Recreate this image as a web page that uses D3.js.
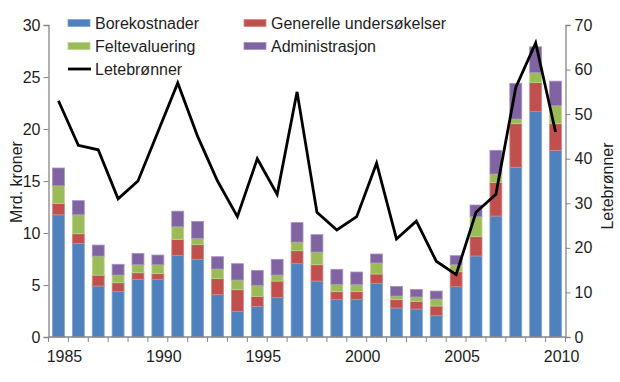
<!DOCTYPE html>
<html><head><meta charset="utf-8">
<script src="https://cdn.jsdelivr.net/npm/d3@7"></script>
<style>
body{margin:0;background:#fff;}
svg{display:block;font-family:"Liberation Sans",Arial,sans-serif;}
</style></head>
<body><svg id="c" width="620" height="382"></svg>
<script>
const years = [1985,1986,1987,1988,1989,1990,1991,1992,1993,1994,1995,1996,1997,1998,1999,2000,2001,2002,2003,2004,2005,2006,2007,2008,2009,2010];
const borekostnader = [11.75,9.0,4.9,4.36,5.55,5.55,7.85,7.47,4.07,2.47,2.95,3.81,7.05,5.38,3.62,3.62,5.16,2.79,2.69,2.05,4.84,7.79,11.63,16.32,21.67,17.95];
const generelle = [1.1,0.93,1.05,0.86,0.63,0.54,1.54,1.41,1.54,2.08,0.96,1.57,1.25,1.57,0.74,0.74,0.9,0.8,0.74,0.93,1.44,1.86,3.24,4.19,2.79,2.56];
const feltevaluering = [1.7,1.83,1.83,0.74,0.77,0.86,1.21,0.61,0.93,0.93,1.06,0.58,0.83,1.22,0.70,0.70,1.06,0.35,0.42,0.67,0.67,1.92,0.8,0.45,0.96,1.73];
const administrasjon = [1.7,1.35,1.06,1.03,1.09,0.93,1.5,1.63,1.18,1.57,1.44,1.51,1.87,1.67,1.45,1.19,0.86,0.93,0.73,0.77,0.87,1.12,2.28,3.43,2.48,2.36];
const letebronner = [53,43,42,31,35,46,57,45,35,27,40,32,55,28,24,27,39,22,26,17,14,28,32,56,66,46];
const leftTicks = [0,5,10,15,20,25,30];
const rightTicks = [0,10,20,30,40,50,60,70];
const xLabels = [1985,1990,1995,2000,2005,2010];
const seriesNames = ["Borekostnader","Generelle undersøkelser","Feltevaluering","Administrasjon"];
const lineName = "Letebrønner";
const colors = ["#4F81BD","#C0504D","#9BBB59","#8064A2"];
const strokes = ["#7fa3d3","#d98583","#bcd58c","#a891c4"];

const svg = d3.select("#c");
const L = 48.5, R = 565.5, T = 25, B = 337;
const x = d3.scaleBand().domain(years).range([L, R]).paddingInner(0.4).paddingOuter(0.2);
const yL = d3.scaleLinear().domain([0,30]).range([B, T]);
const yR = d3.scaleLinear().domain([0,70]).range([B, T]);

const table = years.map((yr,i)=>({year:yr, s0:borekostnader[i], s1:generelle[i], s2:feltevaluering[i], s3:administrasjon[i]}));
const stack = d3.stack().keys(["s0","s1","s2","s3"])(table);

const g = svg.append("g");
stack.forEach((layer,k)=>{
  g.selectAll(null).data(layer).enter().append("rect")
    .attr("x", d=>x(d.data.year))
    .attr("width", x.bandwidth())
    .attr("y", d=>yL(d[1]))
    .attr("height", d=>yL(d[0])-yL(d[1]))
    .attr("fill", colors[k])
    .attr("stroke", strokes[k]).attr("stroke-width",0.8);
});

// line
const line = d3.line().x((d,i)=>x(years[i])+x.bandwidth()/2).y(d=>yR(d));
svg.append("path").datum(letebronner).attr("d", line)
  .attr("fill","none").attr("stroke","#000").attr("stroke-width",2.8).attr("stroke-linejoin","miter");

const axisColor = "#868686", textColor = "#1e1e1e";
const ax = d3.axisLeft(yL).tickValues(leftTicks).tickSize(5).tickPadding(3);
const gl = svg.append("g").attr("transform",`translate(${L},0)`).call(ax);
const ar = d3.axisRight(yR).tickValues(rightTicks).tickSize(5).tickPadding(4);
const gr = svg.append("g").attr("transform",`translate(${R},0)`).call(ar);
const step = x.step();
const bTicks = d3.range(years.length+1).map(i=>L+i*step);
const gb = svg.append("g");
gb.append("line").attr("x1",L).attr("x2",R).attr("y1",B).attr("y2",B).attr("stroke",axisColor).attr("stroke-width",1.3);
gb.selectAll(null).data(bTicks).enter().append("line")
  .attr("x1",d=>d).attr("x2",d=>d).attr("y1",B).attr("y2",B+5).attr("stroke",axisColor).attr("stroke-width",1);
gb.selectAll(null).data(xLabels).enter().append("text")
  .attr("x",d=>x(d)+x.bandwidth()/2+6).attr("y",361.5).attr("text-anchor","middle")
  .attr("font-size",16).attr("fill",textColor).text(d=>d);

[gl,gr].forEach(a=>{
  a.select(".domain").attr("stroke",axisColor).attr("stroke-width",1.3);
  a.selectAll(".tick line").attr("stroke",axisColor);
  a.selectAll(".tick text").attr("font-size",16).attr("fill",textColor).attr("font-family","Liberation Sans, Arial, sans-serif");
});

svg.append("text").attr("transform",`translate(16,182) rotate(-90)`).attr("text-anchor","middle")
  .attr("dy","0.35em").attr("font-size",16).attr("fill",textColor).text("Mrd. kroner");
svg.append("text").attr("transform",`translate(607,186) rotate(-90)`).attr("text-anchor","middle")
  .attr("dy","0.35em").attr("font-size",16).attr("fill",textColor).text(lineName);

const leg = [
  {name:seriesNames[0], c:colors[0], s:strokes[0], x:68, y:23},
  {name:seriesNames[1], c:colors[1], s:strokes[1], x:244, y:23},
  {name:seriesNames[2], c:colors[2], s:strokes[2], x:68, y:46},
  {name:seriesNames[3], c:colors[3], s:strokes[3], x:244, y:46}
];
leg.forEach(d=>{
  svg.append("rect").attr("x",d.x).attr("y",d.y-3.5).attr("width",22).attr("height",7).attr("fill",d.c).attr("stroke",d.s).attr("stroke-width",0.8);
  svg.append("text").attr("x",d.x+27).attr("y",d.y).attr("dy","0.35em").attr("font-size",16).attr("fill",textColor).text(d.name);
});
svg.append("line").attr("x1",68).attr("x2",91).attr("y1",69).attr("y2",69).attr("stroke","#000").attr("stroke-width",2.8);
svg.append("text").attr("x",95).attr("y",69).attr("dy","0.35em").attr("font-size",16).attr("fill",textColor).text(lineName);
</script></body></html>
